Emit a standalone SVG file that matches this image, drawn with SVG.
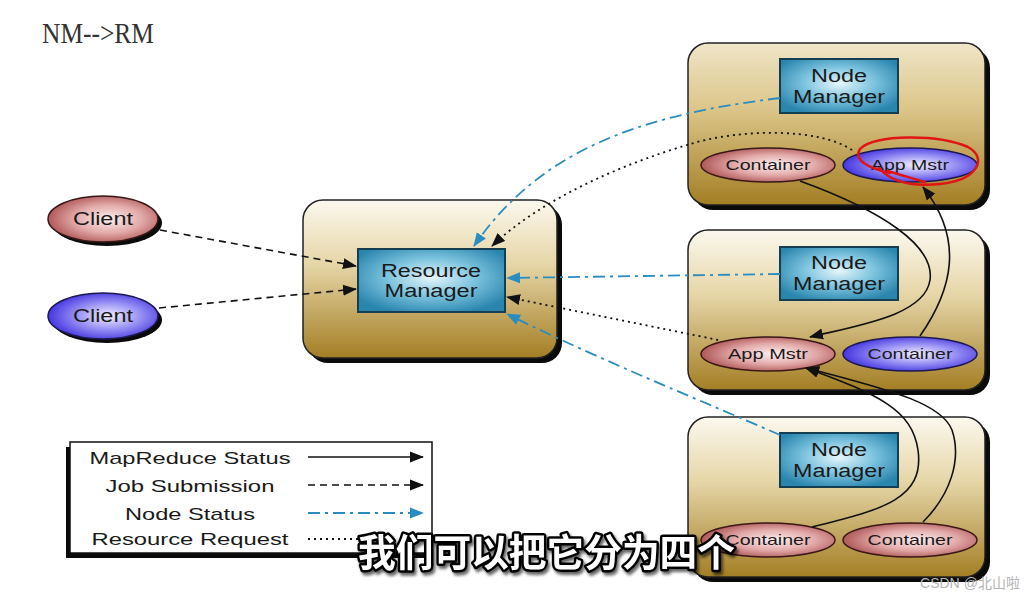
<svg xmlns="http://www.w3.org/2000/svg" width="1036" height="599" viewBox="0 0 1036 599">
<defs>
<linearGradient id="boxg" x1="0" y1="0" x2="0" y2="1">
<stop offset="0" stop-color="#fbf8ee"/>
<stop offset="0.4" stop-color="#e6d6a8"/>
<stop offset="1" stop-color="#a37e24"/>
</linearGradient>
<linearGradient id="boxg2" x1="0" y1="0" x2="0" y2="1">
<stop offset="0" stop-color="#efe5c8"/>
<stop offset="0.4" stop-color="#dcc68a"/>
<stop offset="1" stop-color="#a37e24"/>
</linearGradient>
<radialGradient id="blueg" cx="0.5" cy="0.45" r="0.6">
<stop offset="0" stop-color="#e6f6fb"/>
<stop offset="0.5" stop-color="#7cc3de"/>
<stop offset="1" stop-color="#2b86ae"/>
</radialGradient>
<radialGradient id="pinkg" cx="0.55" cy="0.5" r="0.55">
<stop offset="0" stop-color="#fdf0f0"/>
<stop offset="0.55" stop-color="#e3aaaa"/>
<stop offset="1" stop-color="#b05858"/>
</radialGradient>
<radialGradient id="purpg" cx="0.55" cy="0.5" r="0.55">
<stop offset="0" stop-color="#f2f0ff"/>
<stop offset="0.5" stop-color="#9d96f5"/>
<stop offset="1" stop-color="#4536e0"/>
</radialGradient>
<filter id="ds" x="-5%" y="-20%" width="110%" height="150%">
<feDropShadow dx="2" dy="3" stdDeviation="1.5" flood-color="#000" flood-opacity="0.6"/>
</filter>
<marker id="ab" markerUnits="userSpaceOnUse" markerWidth="14" markerHeight="12" refX="13" refY="5.5" orient="auto" viewBox="0 0 14 11">
<path d="M0,0 L14,5.5 L0,11 z" fill="#111"/>
</marker>
<marker id="au" markerUnits="userSpaceOnUse" markerWidth="14" markerHeight="12" refX="13" refY="5.5" orient="auto" viewBox="0 0 14 11">
<path d="M0,0 L14,5.5 L0,11 z" fill="#2b8cbf"/>
</marker>
</defs>
<style>
.shadow{fill:#0a0a0a}
.box{fill:url(#boxg);stroke:#222;stroke-width:1.5}
.nm{fill:url(#blueg);stroke:#163e52;stroke-width:2}
.pink{fill:url(#pinkg);stroke:#3a1818;stroke-width:1.5}
.purp{fill:url(#purpg);stroke:#1c1850;stroke-width:1.5}
.lbl{font-family:"Liberation Sans",Arial,sans-serif;fill:#1a1a1a;text-anchor:middle}
.big{font-size:18px}
.sm{font-size:15px}
.leg{font-family:"Liberation Sans",Arial,sans-serif;fill:#1a1a1a;font-size:17px;text-anchor:middle}
.solid{fill:none;stroke:#111;stroke-width:1.6}
.dash{fill:none;stroke:#111;stroke-width:1.6;stroke-dasharray:7 5}
.dot{fill:none;stroke:#111;stroke-width:1.8;stroke-dasharray:2 4}
.dd{fill:none;stroke:#2b8cbf;stroke-width:1.8;stroke-dasharray:12 5 3 5}
</style>
<rect width="1036" height="599" fill="#ffffff"/>

<text x="42" y="43" font-family="Liberation Serif, serif" font-size="29" fill="#333" textLength="112" lengthAdjust="spacingAndGlyphs">NM--&gt;RM</text>

<g id="resource-manager">
<rect class="shadow" x="308" y="205" width="254" height="158" rx="20"/>
<rect class="box" x="303" y="200" width="254" height="158" rx="20"/>
<rect class="nm" x="358" y="249" width="147" height="63"/>
<text class="lbl big" x="431" y="277" textLength="100" lengthAdjust="spacingAndGlyphs">Resource</text>
<text class="lbl big" x="431" y="297" textLength="93" lengthAdjust="spacingAndGlyphs">Manager</text>
</g>

<g id="client-1">
<ellipse class="shadow" cx="107" cy="223" rx="55" ry="23"/>
<ellipse class="pink" cx="103" cy="219" rx="55" ry="23"/>
<text class="lbl big" x="103" y="225" textLength="60" lengthAdjust="spacingAndGlyphs">Client</text>
</g>
<g id="client-2">
<ellipse class="shadow" cx="107" cy="320" rx="55" ry="23"/>
<ellipse class="purp" cx="103" cy="316" rx="55" ry="23"/>
<text class="lbl big" x="103" y="322" textLength="60" lengthAdjust="spacingAndGlyphs">Client</text>
</g>

<g id="node-1">
<rect class="shadow" x="693" y="48" width="297" height="162" rx="20"/>
<rect class="box" x="688" y="43" width="297" height="162" rx="20" style="fill:url(#boxg2)"/>
<rect class="nm" x="780" y="59" width="118" height="54"/>
<text class="lbl big" x="839" y="82" textLength="56" lengthAdjust="spacingAndGlyphs">Node</text>
<text class="lbl big" x="839" y="103" textLength="92" lengthAdjust="spacingAndGlyphs">Manager</text>
<ellipse class="pink" cx="768" cy="165" rx="67" ry="17"/>
<text class="lbl sm" x="768" y="170" textLength="85" lengthAdjust="spacingAndGlyphs">Container</text>
<ellipse class="purp" cx="910" cy="165" rx="67" ry="17"/>
<text class="lbl sm" x="910" y="170" textLength="78" lengthAdjust="spacingAndGlyphs">App Mstr</text>
</g>

<g id="node-2">
<rect class="shadow" x="693" y="235" width="297" height="160" rx="20"/>
<rect class="box" x="688" y="230" width="297" height="160" rx="20"/>
<rect class="nm" x="780" y="247" width="118" height="53"/>
<text class="lbl big" x="839" y="269" textLength="56" lengthAdjust="spacingAndGlyphs">Node</text>
<text class="lbl big" x="839" y="290" textLength="92" lengthAdjust="spacingAndGlyphs">Manager</text>
<ellipse class="pink" cx="768" cy="354" rx="67" ry="17"/>
<text class="lbl sm" x="768" y="359" textLength="80" lengthAdjust="spacingAndGlyphs">App Mstr</text>
<ellipse class="purp" cx="910" cy="354" rx="67" ry="17"/>
<text class="lbl sm" x="910" y="359" textLength="85" lengthAdjust="spacingAndGlyphs">Container</text>
</g>

<g id="node-3">
<rect class="shadow" x="693" y="422" width="297" height="160" rx="20"/>
<rect class="box" x="688" y="417" width="297" height="160" rx="20"/>
<rect class="nm" x="780" y="433" width="118" height="54"/>
<text class="lbl big" x="839" y="456" textLength="56" lengthAdjust="spacingAndGlyphs">Node</text>
<text class="lbl big" x="839" y="477" textLength="92" lengthAdjust="spacingAndGlyphs">Manager</text>
<ellipse class="pink" cx="768" cy="540" rx="67" ry="17"/>
<text class="lbl sm" x="768" y="545" textLength="85" lengthAdjust="spacingAndGlyphs">Container</text>
<ellipse class="pink" cx="910" cy="540" rx="67" ry="17"/>
<text class="lbl sm" x="910" y="545" textLength="85" lengthAdjust="spacingAndGlyphs">Container</text>
</g>

<g id="connectors">
<path class="dash" d="M160,230 L356,266" marker-end="url(#ab)"/>
<path class="dash" d="M159,308 L356,289" marker-end="url(#ab)"/>
<path class="dd" d="M780,98 C640,115 540,150 474,246" marker-end="url(#au)"/>
<path class="dot" d="M852,150 C820,128 740,128 687,145 C620,165 540,200 492,246" marker-end="url(#ab)"/>
<path class="dd" d="M780,274 L507,278" marker-end="url(#au)"/>
<path class="dot" d="M718,340 C660,328 580,312 507,297" marker-end="url(#ab)"/>
<path class="dd" d="M780,435 C700,400 600,360 507,314" marker-end="url(#au)"/>
<path class="solid" d="M800,181 C880,210 935,245 930,280 C925,315 860,325 810,337" marker-end="url(#ab)"/>
<path class="solid" d="M920,336 C952,290 965,240 923,187" marker-end="url(#ab)"/>
<path class="solid" d="M812,527 C880,510 925,500 918,450 C912,410 880,395 806,368" marker-end="url(#ab)"/>
<path class="solid" d="M923,522 C950,495 962,460 952,430 C942,405 900,392 806,368" marker-end="url(#ab)"/>
</g>

<path d="M890,173 C868,168 853,160 860,149 C874,134 938,134 968,147 C988,158 978,180 940,184 C910,187 890,181 879,168 M888,171 C900,175 912,178 925,182" fill="none" stroke="#e01414" stroke-width="2.5" stroke-linecap="round"/>

<g id="legend">
<rect class="shadow" x="66" y="447" width="362" height="111"/>
<rect x="70" y="442" width="362" height="111" fill="#fff" stroke="#111" stroke-width="1.5"/>
<text class="leg" x="190" y="464" textLength="201" lengthAdjust="spacingAndGlyphs">MapReduce Status</text>
<text class="leg" x="190" y="492" textLength="169" lengthAdjust="spacingAndGlyphs">Job Submission</text>
<text class="leg" x="190" y="520" textLength="130" lengthAdjust="spacingAndGlyphs">Node Status</text>
<text class="leg" x="190" y="545" textLength="197" lengthAdjust="spacingAndGlyphs">Resource Request</text>
<path class="solid" d="M308,457 L423,457" marker-end="url(#ab)"/>
<path class="dash" d="M308,485 L423,485" marker-end="url(#ab)"/>
<path class="dd" d="M308,513 L423,513" marker-end="url(#au)"/>
<path class="dot" d="M308,539 L380,539"/>
</g>

<text x="358" y="566" font-family="Noto Sans CJK SC, sans-serif" font-size="38" font-weight="bold" fill="#fff" stroke="#000" stroke-width="5" stroke-linejoin="round" paint-order="stroke fill" filter="url(#ds)" textLength="377" lengthAdjust="spacingAndGlyphs">我们可以把它分为四个</text>

<text x="920" y="588" font-family="Liberation Sans, Noto Sans CJK SC, sans-serif" font-size="14" fill="#b4b4b4" textLength="100" lengthAdjust="spacingAndGlyphs">CSDN @北山啦</text>
</svg>
